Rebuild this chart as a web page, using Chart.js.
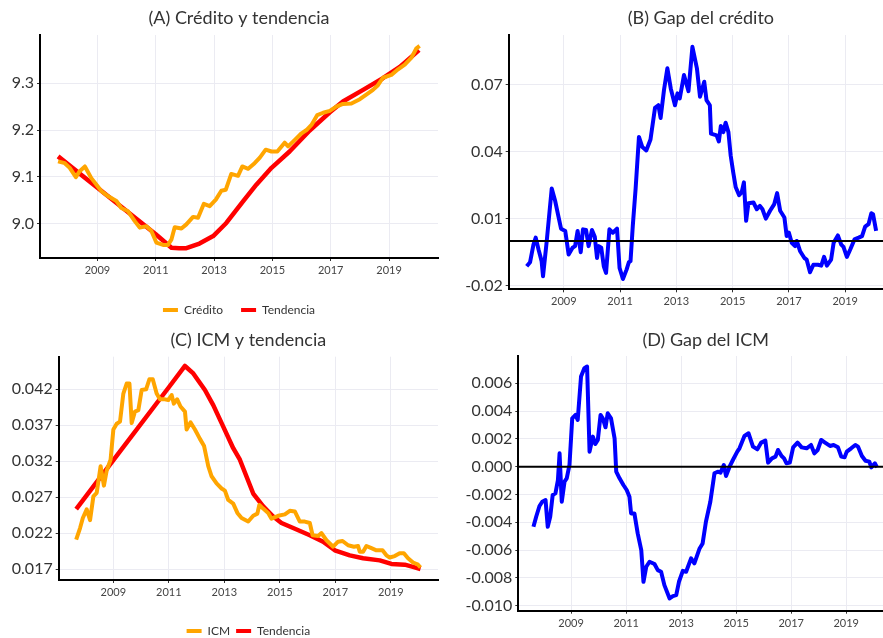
<!DOCTYPE html>
<html><head><meta charset="utf-8">
<script src="https://cdn.jsdelivr.net/npm/chart.js@4.4.1/dist/chart.umd.min.js"></script>
<style>
html,body{margin:0;padding:0;background:#fff;}
#wrap{position:relative;width:883px;height:638px;overflow:hidden;background:#fff;}
canvas{position:absolute;}
</style></head><body>
<div id="wrap">
<canvas id="cA" width="441" height="360" style="left:0;top:0"></canvas>
<canvas id="cB" width="452" height="320" style="left:441px;top:0"></canvas>
<canvas id="cC" width="441" height="340" style="left:0;top:320px"></canvas>
<canvas id="cD" width="452" height="318" style="left:441px;top:320px"></canvas>
</div>
<script>
// ---------- DATA ----------
const xTickValues = [2009, 2011, 2013, 2015, 2017, 2019];
const xTickLabels = ['2009', '2011', '2013', '2015', '2017', '2019'];

// (A) Crédito y tendencia
const creditoX = [2007.65,2007.88,2008.05,2008.26,2008.39,2008.57,2008.79,2009.14,2009.37,2009.65,2009.82,2010.05,2010.28,2010.45,2010.68,2010.85,2011.02,2011.25,2011.42,2011.54,2011.65,2011.88,2012.05,2012.28,2012.45,2012.65,2012.85,2013.06,2013.25,2013.40,2013.59,2013.82,2013.97,2014.17,2014.39,2014.57,2014.77,2014.97,2015.17,2015.42,2015.54,2015.77,2016.00,2016.17,2016.34,2016.54,2016.74,2016.97,2017.19,2017.42,2017.71,2018.00,2018.22,2018.45,2018.62,2018.79,2019.08,2019.31,2019.54,2019.77,2019.94,2020.05];
const creditoY = [9.133,9.129,9.119,9.099,9.112,9.122,9.097,9.069,9.058,9.048,9.033,9.026,9.005,8.991,8.994,8.984,8.959,8.954,8.954,8.966,8.992,8.989,8.998,9.014,9.012,9.042,9.037,9.051,9.070,9.072,9.106,9.102,9.122,9.117,9.129,9.141,9.158,9.154,9.154,9.173,9.165,9.179,9.193,9.200,9.211,9.232,9.237,9.241,9.250,9.256,9.257,9.266,9.276,9.286,9.296,9.312,9.318,9.330,9.340,9.355,9.375,9.380];
const tendAX = [2007.65,2009.00,2011.00,2011.54,2011.80,2012.05,2012.50,2012.97,2013.42,2014.00,2014.45,2014.97,2015.59,2016.28,2016.97,2017.42,2018.11,2018.79,2019.37,2020.03];
const tendAY = [9.1436,9.0765,8.977,8.948,8.947,8.947,8.957,8.973,9.001,9.048,9.083,9.119,9.154,9.199,9.238,9.261,9.286,9.311,9.335,9.371];
const yTicksA = [9.0, 9.1, 9.2, 9.3];
const yLabelsA = ['9.0', '9.1', '9.2', '9.3'];

// (B) Gap del crédito
const gapCredX = [2007.68,2007.80,2007.92,2008.00,2008.10,2008.21,2008.26,2008.39,2008.57,2008.69,2008.79,2008.90,2009.05,2009.17,2009.31,2009.40,2009.49,2009.60,2009.68,2009.79,2009.88,2010.00,2010.10,2010.18,2010.24,2010.33,2010.42,2010.50,2010.62,2010.74,2010.89,2010.98,2011.10,2011.23,2011.31,2011.37,2011.45,2011.55,2011.67,2011.79,2011.93,2012.08,2012.24,2012.36,2012.44,2012.56,2012.68,2012.80,2012.95,2013.04,2013.12,2013.27,2013.43,2013.57,2013.73,2013.84,2013.99,2014.07,2014.19,2014.23,2014.43,2014.51,2014.58,2014.67,2014.75,2014.85,2014.93,2015.02,2015.11,2015.23,2015.32,2015.40,2015.48,2015.56,2015.74,2015.86,2015.97,2016.06,2016.18,2016.33,2016.48,2016.58,2016.69,2016.84,2016.92,2017.00,2017.10,2017.22,2017.28,2017.40,2017.55,2017.63,2017.75,2017.87,2018.03,2018.15,2018.25,2018.35,2018.50,2018.59,2018.74,2018.86,2018.94,2019.06,2019.18,2019.33,2019.48,2019.60,2019.71,2019.83,2019.93,2019.99,2020.10];
const gapCredY = [-0.0113,-0.0095,-0.0016,0.0015,-0.0038,-0.0090,-0.0158,-0.0003,0.0235,0.0180,0.0120,0.0055,0.0045,-0.0060,-0.0030,-0.0023,0.0045,-0.0050,0.0052,0.0049,-0.0023,0.0049,0.0019,-0.0076,-0.0023,-0.0030,-0.0113,-0.0143,0.0052,0.0037,0.0055,-0.0120,-0.0170,-0.0128,-0.0095,-0.0090,0.0067,0.0232,0.0465,0.0420,0.0405,0.0454,0.0595,0.0607,0.0550,0.0675,0.0772,0.0682,0.0607,0.0660,0.0637,0.0742,0.0670,0.0868,0.0772,0.0645,0.0712,0.0630,0.0607,0.0480,0.0472,0.0445,0.0514,0.0487,0.0529,0.0487,0.0382,0.0307,0.0240,0.0205,0.0217,0.0262,0.0090,0.0169,0.0172,0.0142,0.0157,0.0142,0.0100,0.0135,0.0165,0.0214,0.0135,0.0105,0.0022,0.0037,-0.0008,-0.0023,0.0000,-0.0046,-0.0076,-0.0083,-0.0140,-0.0106,-0.0106,-0.0110,-0.0071,-0.0110,-0.0083,-0.0008,0.0025,-0.0016,-0.0026,-0.0071,-0.0038,0.0007,0.0015,0.0022,0.0064,0.0075,0.0124,0.0120,0.0045];
const yTicksB = [-0.02, 0.01, 0.04, 0.07];
const yLabelsB = ['-0.02', '0.01', '0.04', '0.07'];

// (C) ICM y tendencia
const icmX = [2007.66,2007.80,2007.90,2008.04,2008.16,2008.28,2008.40,2008.54,2008.66,2008.76,2008.90,2009.00,2009.12,2009.24,2009.36,2009.48,2009.58,2009.66,2009.78,2009.90,2010.02,2010.18,2010.30,2010.42,2010.56,2010.68,2010.86,2010.98,2011.10,2011.18,2011.30,2011.42,2011.58,2011.64,2011.78,2011.94,2012.12,2012.27,2012.42,2012.54,2012.72,2012.90,2013.02,2013.14,2013.32,2013.47,2013.62,2013.86,2014.04,2014.19,2014.26,2014.40,2014.58,2014.70,2014.94,2015.18,2015.36,2015.54,2015.72,2015.90,2016.08,2016.18,2016.38,2016.50,2016.68,2016.92,2017.10,2017.26,2017.46,2017.67,2017.82,2017.88,2018.00,2018.12,2018.30,2018.48,2018.70,2018.84,2018.96,2019.14,2019.32,2019.47,2019.62,2019.80,2019.98,2020.07];
const icmY = [0.0211,0.0227,0.0241,0.0253,0.0238,0.0271,0.0276,0.0313,0.0286,0.0307,0.0322,0.0364,0.0372,0.0375,0.0414,0.0428,0.0428,0.0373,0.0389,0.0391,0.0419,0.0420,0.0434,0.0434,0.0414,0.0406,0.0406,0.0405,0.0412,0.0400,0.0406,0.0396,0.0389,0.0364,0.0374,0.0364,0.0351,0.0341,0.0313,0.0299,0.0289,0.0282,0.0279,0.0266,0.0261,0.0248,0.0241,0.0236,0.0244,0.0247,0.0259,0.0254,0.0248,0.0240,0.0244,0.0246,0.0251,0.0250,0.0236,0.0236,0.0234,0.0217,0.0216,0.0220,0.0210,0.0201,0.0208,0.0209,0.0203,0.0201,0.0202,0.0194,0.0194,0.0202,0.0199,0.0196,0.0196,0.0189,0.0186,0.0188,0.0192,0.0192,0.0185,0.0179,0.0176,0.0172];
const tendCX = [2007.66,2009.00,2011.00,2011.58,2011.88,2012.30,2012.60,2012.96,2013.32,2013.56,2014.04,2014.40,2014.76,2015.06,2015.48,2016.08,2016.56,2016.98,2017.52,2018.00,2018.60,2019.02,2019.50,2019.80,2020.07];
const tendCY = [0.02533,0.03214,0.04228,0.04524,0.0442,0.0419,0.0398,0.0368,0.0338,0.0322,0.0275,0.0257,0.0243,0.0234,0.0227,0.0217,0.0208,0.0196,0.0189,0.0185,0.0182,0.0177,0.0176,0.0173,0.0170];
const yTicksC = [0.017, 0.022, 0.027, 0.032, 0.037, 0.042];
const yLabelsC = ['0.017', '0.022', '0.027', '0.032', '0.037', '0.042'];

// (D) Gap del ICM
const gapIcmX = [2007.63,2007.73,2007.85,2007.95,2008.07,2008.15,2008.24,2008.33,2008.43,2008.52,2008.58,2008.66,2008.76,2008.84,2008.94,2009.04,2009.16,2009.24,2009.36,2009.48,2009.58,2009.67,2009.79,2009.88,2009.97,2010.07,2010.15,2010.25,2010.33,2010.45,2010.58,2010.64,2010.76,2010.90,2011.02,2011.12,2011.18,2011.30,2011.42,2011.55,2011.63,2011.73,2011.85,2012.03,2012.15,2012.27,2012.39,2012.58,2012.70,2012.82,2012.92,2013.06,2013.18,2013.36,2013.48,2013.67,2013.78,2013.90,2014.06,2014.21,2014.33,2014.43,2014.55,2014.63,2014.76,2014.88,2015.04,2015.12,2015.30,2015.45,2015.61,2015.77,2015.91,2016.06,2016.16,2016.30,2016.43,2016.52,2016.65,2016.74,2016.83,2016.95,2017.07,2017.23,2017.38,2017.56,2017.72,2017.84,2017.96,2018.09,2018.23,2018.41,2018.54,2018.70,2018.82,2018.94,2019.02,2019.18,2019.33,2019.43,2019.57,2019.70,2019.84,2019.91,2020.04,2020.12];
const gapIcmY = [-0.00432,-0.0036,-0.00283,-0.00252,-0.0024,-0.00432,-0.0036,-0.00204,-0.00192,-0.00096,0.00096,-0.00252,-0.00108,-0.00084,0.00012,0.00348,0.00372,0.00336,0.00648,0.00708,0.0072,0.00108,0.00216,0.00163,0.00192,0.00372,0.00348,0.00283,0.00384,0.00348,0.00204,-0.00036,-0.00084,-0.00132,-0.00168,-0.00216,-0.00336,-0.00336,-0.0048,-0.006,-0.00828,-0.0072,-0.00684,-0.007,-0.00744,-0.00756,-0.00852,-0.00948,-0.00931,-0.00924,-0.00828,-0.00749,-0.00756,-0.0066,-0.00696,-0.00588,-0.00552,-0.00396,-0.00252,-0.00048,-0.00036,-0.00043,0.00012,-0.00067,0.0,0.00048,0.00108,0.00132,0.00221,0.0024,0.00144,0.00125,0.00173,0.00187,0.00029,0.0006,0.00072,0.0012,0.00077,0.0006,0.00024,0.00029,0.00139,0.00173,0.00139,0.00132,0.00156,0.00096,0.0012,0.00192,0.00173,0.00149,0.00156,0.00139,0.00072,0.00067,0.00108,0.00132,0.00156,0.00144,0.00077,0.00043,0.00036,-0.00005,0.00024,-0.00005];
const yTicksD = [-0.010, -0.008, -0.006, -0.004, -0.002, 0.000, 0.002, 0.004, 0.006];
const yLabelsD = ['-0.010', '-0.008', '-0.006', '-0.004', '-0.002', '0.000', '0.002', '0.004', '0.006'];

const refLineValue = 0;

// ---------- STYLE / HELPERS ----------
const FONT = 'Lato, "DejaVu Sans", sans-serif';
const GRID = '#EBEBF2';
const ORANGE = '#FFA500', RED = '#FF0000', BLUE = '#0000FF';

function pts(xs, ys) { return xs.map((x, i) => ({x: x, y: ys[i]})); }

function xScale(min, max, h) {
  return {
    type: 'linear', min: min, max: max,
    afterBuildTicks: s => { s.ticks = xTickValues.map(v => ({value: v})); },
    afterFit: s => { s.height = h; },
    ticks: { callback: (v, i) => xTickLabels[i], font: {family: FONT, size: 11}, color: '#444', padding: 3, maxRotation: 0, autoSkip: false },
    grid: { color: GRID, lineWidth: 1, tickLength: 3, tickColor: '#333', tickWidth: 1 },
    border: { display: true, color: '#000', width: 2 }
  };
}
function yScale(min, max, vals, labels, w) {
  return {
    type: 'linear', min: min, max: max,
    afterBuildTicks: s => { s.ticks = vals.map(v => ({value: v})); },
    afterFit: s => { s.width = w; },
    ticks: { callback: (v, i) => labels[i], font: {family: FONT, size: 16}, color: '#333', padding: 3, autoSkip: false },
    grid: { color: GRID, lineWidth: 1, tickLength: 3, tickColor: '#333', tickWidth: 1 },
    border: { display: true, color: '#000', width: 2 }
  };
}
function titleOpt(text, padTop, padBottom) {
  return { display: true, text: text, fullSize: false, color: '#333',
    font: {family: FONT, size: 18, weight: 'normal', lineHeight: 1.2},
    padding: {top: padTop, bottom: padBottom} };
}
function legendOpt(pad) {
  return { display: true, position: 'bottom', fullSize: false,
    labels: { boxWidth: 15, boxHeight: 4, padding: pad, color: '#333',
      font: {family: FONT, size: 12},
      generateLabels: chart => Chart.defaults.plugins.legend.labels.generateLabels(chart)
        .map(l => Object.assign({}, l, {lineWidth: 0, fillStyle: l.strokeStyle})) } };
}
function ds(label, xs, ys, color, w) {
  return { label: label, data: pts(xs, ys), borderColor: color, backgroundColor: color,
    borderWidth: w, pointRadius: 0, tension: 0, borderJoinStyle: 'round', borderCapStyle: 'butt' };
}
const refLine = {
  id: 'refLine',
  afterDatasetsDraw(chart) {
    const {ctx, chartArea, scales} = chart;
    const py = scales.y.getPixelForValue(refLineValue);
    ctx.save();
    ctx.strokeStyle = '#000'; ctx.lineWidth = 2;
    ctx.beginPath(); ctx.moveTo(chartArea.left, py); ctx.lineTo(chartArea.right, py); ctx.stroke();
    ctx.restore();
  }
};

const common = { responsive: false, animation: false, events: [] };

// (A)
new Chart(document.getElementById('cA'), {
  type: 'line',
  data: { datasets: [ds('Crédito', creditoX, creditoY, ORANGE, 4), ds('Tendencia', tendAX, tendAY, RED, 4.5)] },
  options: Object.assign({}, common, {
    layout: { padding: {left: 0, right: 3, top: 0, bottom: 34} },
    scales: { x: xScale(2007.03, 2020.68, 28), y: yScale(8.926, 9.4035, yTicksA, yLabelsA, 40) },
    plugins: { title: titleOpt('(A) Crédito y tendencia', 7.5, 5.9), legend: legendOpt(18), tooltip: {enabled: false} }
  })
});

// (B)
new Chart(document.getElementById('cB'), {
  type: 'line',
  data: { datasets: [ds('Gap del crédito', gapCredX, gapCredY, BLUE, 4)] },
  options: Object.assign({}, common, {
    layout: { padding: {left: 0, right: 0, top: 0, bottom: 0} },
    scales: { x: xScale(2007.04, 2020.7, 30.7), y: yScale(-0.0216, 0.0921, yTicksB, yLabelsB, 67.7) },
    plugins: { title: titleOpt('(B) Gap del crédito', 7.5, 5.9), legend: {display: false}, tooltip: {enabled: false} }
  }),
  plugins: [refLine]
});

// (C)
new Chart(document.getElementById('cC'), {
  type: 'line',
  data: { datasets: [ds('ICM', icmX, icmY, ORANGE, 4), ds('Tendencia', tendCX, tendCY, RED, 4.5)] },
  options: Object.assign({}, common, {
    layout: { padding: {left: 0, right: 3, top: 0, bottom: 13} },
    scales: { x: xScale(2007.03, 2020.7, 39), y: yScale(0.01547, 0.04653, yTicksC, yLabelsC, 58.7) },
    plugins: { title: titleOpt('(C) ICM y tendencia', 9.2, 5.9), legend: legendOpt(6), tooltip: {enabled: false} }
  })
});

// (D)
new Chart(document.getElementById('cD'), {
  type: 'line',
  data: { datasets: [ds('Gap del ICM', gapIcmX, gapIcmY, BLUE, 4)] },
  options: Object.assign({}, common, {
    layout: { padding: {left: 0, right: 0, top: 0, bottom: 0} },
    scales: { x: xScale(2007.08, 2020.7, 27.3), y: yScale(-0.01036, 0.00796, yTicksD, yLabelsD, 77.3) },
    plugins: { title: titleOpt('(D) Gap del ICM', 9.2, 5.2), legend: {display: false}, tooltip: {enabled: false} }
  }),
  plugins: [refLine]
});
</script>
</body></html>
